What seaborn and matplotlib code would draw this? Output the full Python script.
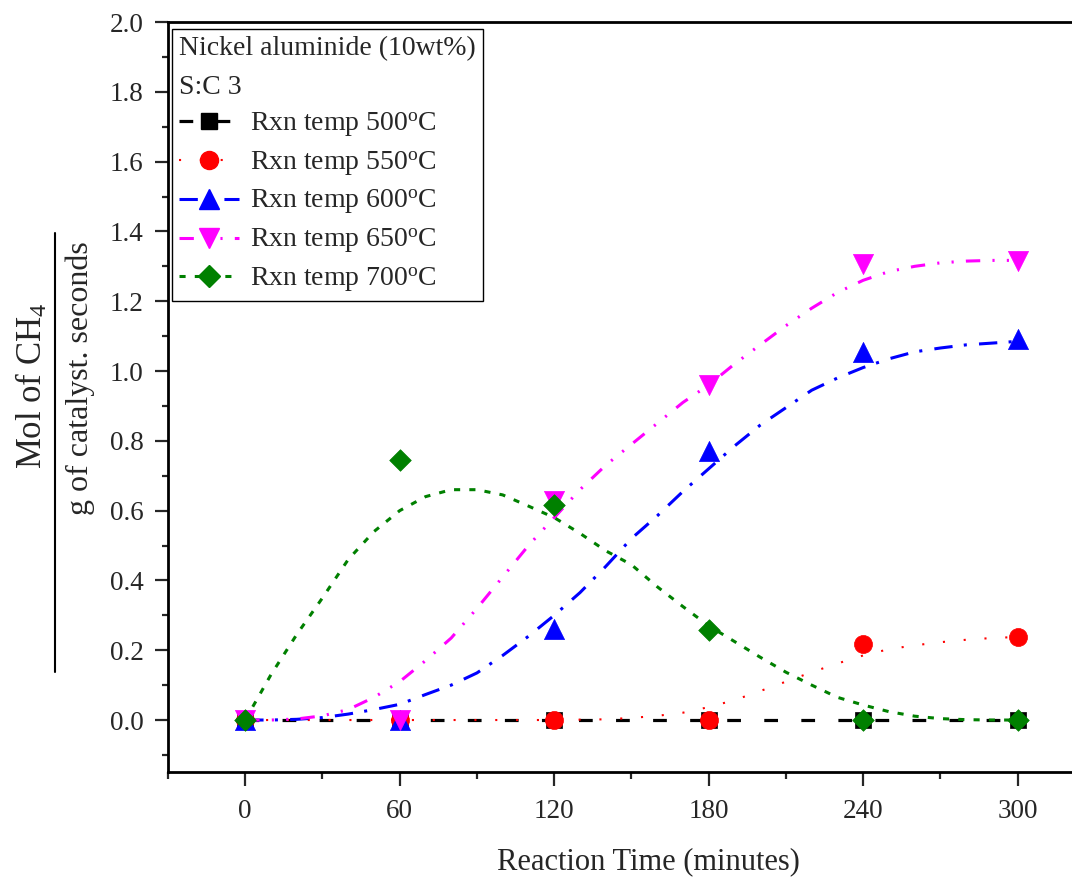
import matplotlib
matplotlib.use("Agg")
import matplotlib.pyplot as plt
from matplotlib.lines import Line2D
from matplotlib.ticker import FixedLocator, FormatStrFormatter
import seaborn as sns

# Measured rates (markers)
time_min = [0, 60, 120, 180, 240, 300]
rate_500 = [0.0, 0.0, 0.0, 0.0, 0.0, 0.0]
rate_550 = [0.0, 0.0, 0.0, 0.0, 0.218, 0.238]
rate_600 = [0.0, 0.0, 0.262, 0.771, 1.054, 1.092]
rate_650 = [0.0, 0.0, 0.627, 0.960, 1.307, 1.315]
rate_700 = [0.0, 0.745, 0.616, 0.258, 0.0, 0.0]

# Fitted trend curves, sampled every 10 minutes
fit_time = [0, 10, 20, 30, 40, 50, 60, 70, 80, 90, 100, 110, 120, 130, 140, 150,
            160, 170, 180, 190, 200, 210, 220, 230, 240, 250, 260, 270, 280, 290, 300]
fit_550 = [0, 0, 0, 0, 0, 0, 0, 0, 0, 0, 0, 0, 0, 0.001, 0.002, 0.006,
           0.012, 0.021, 0.037, 0.057, 0.083, 0.110, 0.137, 0.162, 0.185, 0.203,
           0.214, 0.223, 0.230, 0.235, 0.238]
fit_600 = [0, 0, 0.002, 0.007, 0.017, 0.030, 0.045, 0.073, 0.100, 0.135, 0.185,
           0.240, 0.300, 0.365, 0.440, 0.520, 0.585, 0.655, 0.720, 0.785, 0.845,
           0.895, 0.945, 0.980, 1.010, 1.035, 1.055, 1.066, 1.075, 1.080, 1.085]
fit_650 = [0, 0, 0.003, 0.012, 0.030, 0.065, 0.110, 0.170, 0.235, 0.320, 0.410,
           0.500, 0.580, 0.660, 0.730, 0.790, 0.850, 0.910, 0.960, 1.020, 1.075,
           1.130, 1.180, 1.225, 1.260, 1.285, 1.300, 1.310, 1.315, 1.317, 1.317]
fit_700 = [0, 0.130, 0.245, 0.350, 0.460, 0.540, 0.600, 0.640, 0.660, 0.660, 0.645,
           0.613, 0.580, 0.535, 0.485, 0.445, 0.382, 0.325, 0.270, 0.225, 0.180,
           0.137, 0.100, 0.065, 0.043, 0.024, 0.011, 0.004, 0.001, 0, 0]

labels = ["Rxn temp 500$^{\\mathrm{o}}$C", "Rxn temp 550$^{\\mathrm{o}}$C",
          "Rxn temp 600$^{\\mathrm{o}}$C", "Rxn temp 650$^{\\mathrm{o}}$C",
          "Rxn temp 700$^{\\mathrm{o}}$C"]
legend_title = "Nickel aluminide (10wt%)\nS:C 3"
x_ticks = [0, 60, 120, 180, 240, 300]

sns.set_style("ticks")
plt.rcParams["font.family"] = ["Liberation Serif", "DejaVu Serif"]
plt.rcParams["mathtext.fontset"] = "custom"
plt.rcParams["mathtext.rm"] = "Liberation Serif"
plt.rcParams["mathtext.it"] = "Liberation Serif:italic"

fig = plt.figure(figsize=(10.72, 8.81), dpi=100)
ax = fig.add_axes([0.1567, 0.1233, 0.8647, 0.8517])

series = [
    # (curve x, curve y, points, color, lw, dash pattern, marker, marker size)
    (time_min, rate_500, rate_500, "#000000", 2.3, (4.3, 7.3), "s", 11.5),
    (fit_time, fit_550, rate_550, "#FF0000", 1.5, (1.0, 9.0), "o", 13.0),
    (fit_time, fit_600, rate_600, "#0000FF", 2.2, (6.0, 3.7, 1.0, 4.0), "^", 14.5),
    (fit_time, fit_650, rate_650, "#FF00FF", 2.2, (4.7, 4.0, 0.7, 4.0, 0.7, 4.0), "v", 14.5),
    (fit_time, fit_700, rate_700, "#008000", 2.2, (2.0, 3.0), "D", 11.0),
]

for cx, cy, _, color, lw, dash, _, _ in series:
    sns.lineplot(x=cx, y=cy, ax=ax, color=color, linewidth=lw, sort=False,
                 estimator=None)
    ax.lines[-1].set_linestyle((0, dash))

for _, _, pts, color, _, _, marker, ms in series:
    sns.scatterplot(x=time_min, y=pts, ax=ax, marker=marker, s=ms ** 2,
                    color=color, edgecolor=color, linewidth=0.5, zorder=3)

ax.set_xlim(-30, 330)
ax.set_ylim(-0.15, 2.0)
ax.xaxis.set_major_locator(FixedLocator(x_ticks))
ax.xaxis.set_minor_locator(FixedLocator([-30, 30, 90, 150, 210, 270, 330]))
ax.yaxis.set_major_locator(FixedLocator([i * 0.2 for i in range(11)]))
ax.yaxis.set_minor_locator(FixedLocator([-0.1 + i * 0.2 for i in range(11)]))
ax.yaxis.set_major_formatter(FormatStrFormatter("%.1f"))

ax.tick_params(axis="x", which="major", length=10, width=1.6, pad=9,
               labelsize=19.5, direction="out")
ax.tick_params(axis="x", which="minor", length=5, width=1.6, direction="out")
ax.tick_params(axis="y", which="major", length=9.4, width=1.6, pad=8,
               labelsize=19.5, direction="out")
ax.tick_params(axis="y", which="minor", length=4, width=1.6, direction="out")
for side in ["left", "bottom", "top", "right"]:
    ax.spines[side].set_linewidth(2.0)
    ax.spines[side].set_color("black")

# Axis titles
ax.set_xlabel("Reaction Time (minutes)", fontsize=22, va="center")
ax.xaxis.set_label_coords(0.518, -0.119)
ax.set_ylabel("Mol of CH$_4$", fontsize=25, va="center")
ax.yaxis.set_label_coords(-0.146, 0.515)
ax.text(-0.0946, 0.525, "g of catalyst. seconds", transform=ax.transAxes,
        rotation=90, ha="center", va="center", rotation_mode="anchor",
        fontsize=23)
ax.add_line(Line2D([-0.1219, -0.1219], [0.134, 0.719], transform=ax.transAxes,
                   color="black", lw=1.5, clip_on=False))

handles = [Line2D([], [], color=c, lw=lw, linestyle=(0, d), marker=m,
                  markersize=ms, markerfacecolor=c, markeredgecolor=c)
           for _, _, _, c, lw, d, m, ms in series]
leg = ax.legend(handles, labels, title=legend_title, loc="upper left",
                bbox_to_anchor=(0.0043, 0.9907), borderaxespad=0,
                fontsize=20, title_fontsize=20, alignment="left",
                handlelength=2.15, handletextpad=0.4, labelspacing=0.38,
                borderpad=0.25, frameon=True, fancybox=False, framealpha=1,
                edgecolor="black")
leg.get_title().set_linespacing(1.75)
leg.get_frame().set_linewidth(1.0)

fig.savefig("out.png", dpi=100)
